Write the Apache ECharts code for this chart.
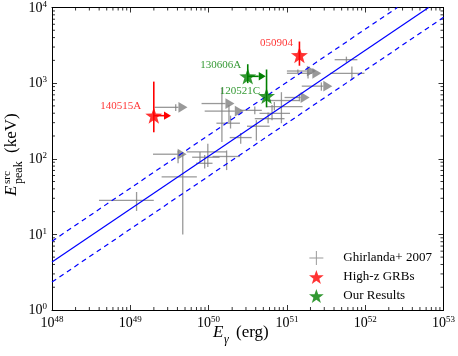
<!DOCTYPE html>
<html lang="en">
<head>
<meta charset="UTF-8">
<title>Ep - Egamma</title>
<script src="https://cdn.jsdelivr.net/npm/echarts@6.0.0/dist/echarts.min.js"></script>
<style>
html, body { margin: 0; padding: 0; background: #fff; }
#main { width: 458px; height: 356px; }
</style>
</head>
<body>
<div id="main"></div>
<script>
// all values are log10
// Ghirlanda+ 2007 sample
var gLogE    = [49.08, 49.67, 49.58, 49.61, 49.99, 49.89, 49.95, 50.23, 50.41, 50.17, 50.26, 50.28, 50.61, 50.59, 50.81, 50.93, 50.84, 50.76, 51.16, 51.27, 51.14, 51.76, 51.83, 51.44];
var gLogELo  = [48.60, 49.40, 49.31, 49.29, 49.72, 49.79, 49.84, 50.05, 50.27, 49.91, 49.95, 50.10, 50.49, 50.40, 50.65, 50.76, 50.74, 50.59, 50.97, 51.00, 51.00, 51.61, 51.55, 51.19];
var gLogEHi  = [49.30, 49.85, 49.73, 49.72, 50.23, 50.14, 50.05, 50.40, 50.55, 50.33, 50.45, 50.40, 50.78, 50.68, 51.04, 51.16, 51.20, 50.97, 51.29, 51.44, 51.37, 51.90, 51.99, 51.58];
var gLogEp   = [1.45, 1.76, 2.68, 2.06, 2.09, 2.02, 1.94, 2.03, 2.28, 2.73, 2.63, 2.47, 2.43, 2.64, 2.60, 2.77, 2.69, 2.53, 2.81, 3.13, 3.16, 3.31, 3.13, 2.96];
var gLogEpLo = [1.31, 1.00, 2.63, 1.94, 1.89, 1.95, 1.87, 1.85, 2.20, 2.22, 2.48, 2.40, 2.24, 2.59, 2.51, 2.47, 2.64, 2.47, 2.76, 3.06, 3.13, 3.27, 3.04, 2.90];
var gLogEpHi = [1.56, 2.09, 2.72, 2.11, 2.20, 2.09, 2.05, 2.11, 2.34, 2.94, 2.71, 2.57, 2.51, 2.69, 2.71, 2.88, 2.75, 2.61, 2.86, 3.19, 3.18, 3.35, 3.22, 3.01];
var gLimit   = [0, 0, 1, 1, 0, 0, 0, 0, 0, 1, 1, 0, 0, 0, 0, 0, 0, 0, 1, 1, 1, 0, 0, 1];

// high-z GRBs
var hzNames   = ['140515A', '050904'];
var hzLogE    = [49.30, 51.16];
var hzLogEHi  = [49.52, 51.16];
var hzLogEp   = [2.57, 3.37];
var hzLogEpLo = [2.35, 3.23];
var hzLogEpHi = [3.02, 3.55];
var hzLimit   = [1, 0];

// our results
var ourNames   = ['130606A', '120521C'];
var ourLogE    = [50.50, 50.74];
var ourLogEHi  = [50.73, 50.74];
var ourLogEp   = [3.09, 2.83];
var ourLogEpLo = [3.00, 2.68];
var ourLogEpHi = [3.25, 3.18];
var ourLimit   = [1, 0];

// Ghirlanda relation and its scatter (end points)
var fitLogE    = [48, 52.81];
var fitLogEp   = [0.634, 4];
var upLogE     = [48, 52.41];
var upLogEp    = [0.91, 4];
var lowLogE    = [48, 53];
var lowLogEp   = [0.37, 3.87];

var xDecades = [48, 49, 50, 51, 52, 53];
var yDecades = [0, 1, 2, 3, 4];

var SERIF = '"Liberation Serif", "DejaVu Serif", serif';
var STAR = 'path://M50,0 L61.76,33.82 L97.55,34.55 L69.02,56.18 L79.39,90.45 L50,70 L20.61,90.45 L30.98,56.18 L2.45,34.55 L38.24,33.82 Z';
var CROSS = 'path://M0,9.3 L20,9.3 L20,10.7 L0,10.7 Z M9.3,0 L10.7,0 L10.7,20 L9.3,20 Z';

function p10(v) { return Math.pow(10, v); }

function errData(e, eLo, eHi, ep, epLo, epHi, lim) {
    var out = [];
    for (var i = 0; i < e.length; i++) {
        out.push([p10(e[i]), p10(ep[i]), p10(eLo[i]), p10(eHi[i]), p10(epLo[i]), p10(epHi[i]), lim[i]]);
    }
    return out;
}

function lineData(xs, ys) {
    return xs.map(function (x, i) { return [p10(x), p10(ys[i])]; });
}

// error bars, with an arrow when the value is a lower limit
function errRender(color, lw, head) {
    return function (params, api) {
        var c = api.coord([api.value(0), api.value(1)]);
        var xl = api.coord([api.value(2), api.value(1)]);
        var xh = api.coord([api.value(3), api.value(1)]);
        var yb = api.coord([api.value(0), api.value(4)]);
        var yt = api.coord([api.value(0), api.value(5)]);
        var lim = api.value(6);
        var st = { stroke: color, lineWidth: lw };
        var kids = [];
        var xEnd = lim ? xh[0] - head : xh[0];
        if (xEnd - xl[0] > 0.5) {
            kids.push({ type: 'line', shape: { x1: xl[0], y1: c[1], x2: xEnd, y2: c[1] }, style: st });
        }
        kids.push({ type: 'line', shape: { x1: c[0], y1: yt[1], x2: c[0], y2: yb[1] }, style: st });
        if (lim) {
            kids.push({
                type: 'polygon',
                shape: { points: [[xh[0], c[1]], [xh[0] - head, c[1] - head * 0.6], [xh[0] - head, c[1] + head * 0.6]] },
                style: { fill: color }
            });
        }
        return { type: 'group', children: kids };
    };
}

// minor ticks 2..9 of every decade, inside, on all four sides
function minorRender(params, api) {
    var kids = [];
    var bl = api.coord([p10(xDecades[0]), p10(yDecades[0])]);
    var tr = api.coord([p10(xDecades[xDecades.length - 1]), p10(yDecades[yDecades.length - 1])]);
    var st = { stroke: '#000', lineWidth: 0.8 };
    for (var i = 0; i < xDecades.length - 1; i++) {
        for (var k = 2; k < 10; k++) {
            var px = api.coord([k * p10(xDecades[i]), 1])[0];
            kids.push({ type: 'line', shape: { x1: px, y1: bl[1], x2: px, y2: bl[1] - 3 }, style: st });
            kids.push({ type: 'line', shape: { x1: px, y1: tr[1], x2: px, y2: tr[1] + 3 }, style: st });
        }
    }
    for (var j = 0; j < yDecades.length - 1; j++) {
        for (var m = 2; m < 10; m++) {
            var py = api.coord([p10(48), m * p10(yDecades[j])])[1];
            kids.push({ type: 'line', shape: { x1: bl[0], y1: py, x2: bl[0] + 3, y2: py }, style: st });
            kids.push({ type: 'line', shape: { x1: tr[0], y1: py, x2: tr[0] - 3, y2: py }, style: st });
        }
    }
    return { type: 'group', children: kids };
}

function powLabel(v) {
    return '{a|10}{b|' + Math.round(Math.log10(v)) + '}';
}

var labelRich = {
    a: { fontFamily: SERIF, fontSize: 14, color: '#000', verticalAlign: 'bottom' },
    b: { fontFamily: SERIF, fontSize: 9, color: '#000', verticalAlign: 'top', padding: [0, 0, 6, 0] }
};

function logAxis(min, max, pos, showLabel) {
    return {
        type: 'log', logBase: 10, min: min, max: max, position: pos,
        axisLine: { show: true, onZero: false, lineStyle: { color: '#000', width: 1 } },
        axisTick: { show: true, inside: true, length: 5, lineStyle: { color: '#000', width: 0.8 } },
        splitLine: { show: false },
        axisLabel: { show: showLabel, formatter: powLabel, rich: labelRich, margin: 5 }
    };
}

var starLabel = {
    '140515A': { distance: 4, offset: [0, -10] },
    '050904': { distance: -2, offset: [0, -12] },
    '130606A': { distance: -2, offset: [0, -11] },
    '120521C': { distance: -2, offset: [0, -5] }
};

function starData(names, e, ep, color) {
    return names.map(function (n, i) {
        return {
            name: n,
            value: [p10(e[i]), p10(ep[i])],
            label: {
                show: true, formatter: n, position: 'left',
                distance: starLabel[n].distance, offset: starLabel[n].offset,
                fontFamily: SERIF, fontSize: 11, color: color
            }
        };
    });
}

var RED = '#ff0000';
var GREEN = '#008000';
var GRAY = 'rgba(128,128,128,0.8)';
var BLUE = '#0000ff';

var chart = echarts.init(document.getElementById('main'));
chart.setOption({
    animation: false,
    grid: { left: 52, right: 14, top: 7, bottom: 46 },
    xAxis: [
        logAxis(p10(48), p10(53), 'bottom', true),
        logAxis(p10(48), p10(53), 'top', false)
    ],
    yAxis: [
        logAxis(p10(0), p10(4), 'left', true),
        logAxis(p10(0), p10(4), 'right', false)
    ],
    legend: {
        orient: 'vertical', left: 304, top: 246, itemWidth: 30, itemHeight: 14, itemGap: 5,
        textStyle: { fontFamily: SERIF, fontSize: 13, color: '#000', padding: [0, 0, 0, 7] },
        data: [
            { name: 'Ghirlanda+ 2007', icon: CROSS },
            { name: 'High-z GRBs', icon: STAR },
            { name: 'Our Results', icon: STAR }
        ]
    },
    graphic: [
        {
            type: 'group', x: 213, y: 341, silent: true,
            children: [
                { type: 'text', x: 0, y: 0, style: { text: 'E', font: 'italic 17px ' + SERIF, fill: '#000', verticalAlign: 'bottom' } },
                { type: 'text', x: 11, y: 5, style: { text: 'γ', font: 'italic 12px ' + SERIF, fill: '#000', verticalAlign: 'bottom' } },
                { type: 'text', x: 23, y: 0, style: { text: '(erg)', font: '17px ' + SERIF, fill: '#000', verticalAlign: 'bottom' } }
            ]
        },
        {
            type: 'group', x: 20, y: 196, rotation: Math.PI / 2, silent: true,
            children: [
                { type: 'text', x: 0, y: 0, style: { text: 'E', font: 'italic 17px ' + SERIF, fill: '#000', verticalAlign: 'bottom' } },
                { type: 'text', x: 12, y: -7, style: { text: 'src', font: '11px ' + SERIF, fill: '#000', verticalAlign: 'bottom' } },
                { type: 'text', x: 12, y: 5, style: { text: 'peak', font: '12px ' + SERIF, fill: '#000', verticalAlign: 'bottom' } },
                { type: 'text', x: 43, y: 0, style: { text: '(keV)', font: '17px ' + SERIF, fill: '#000', verticalAlign: 'bottom' } }
            ]
        }
    ],
    series: [
        {
            type: 'custom', silent: true, clip: false, z: 1,
            data: [[p10(48), 1]],
            renderItem: minorRender
        },
        {
            name: 'Ghirlanda+ 2007', type: 'custom', z: 2,
            itemStyle: { color: '#999' },
            data: errData(gLogE, gLogELo, gLogEHi, gLogEp, gLogEpLo, gLogEpHi, gLimit),
            renderItem: errRender(GRAY, 1.3, 9)
        },
        {
            type: 'line', z: 3, symbol: 'none', silent: true,
            lineStyle: { color: BLUE, width: 1.2 },
            data: lineData(fitLogE, fitLogEp)
        },
        {
            type: 'line', z: 3, symbol: 'none', silent: true,
            lineStyle: { color: BLUE, width: 1.2, type: [5, 4] },
            data: lineData(upLogE, upLogEp)
        },
        {
            type: 'line', z: 3, symbol: 'none', silent: true,
            lineStyle: { color: BLUE, width: 1.2, type: [5, 4] },
            data: lineData(lowLogE, lowLogEp)
        },
        {
            type: 'custom', z: 4, silent: true,
            data: errData(hzLogE, hzLogE, hzLogEHi, hzLogEp, hzLogEpLo, hzLogEpHi, hzLimit),
            renderItem: errRender(RED, 1.6, 7)
        },
        {
            type: 'custom', z: 4, silent: true,
            data: errData(ourLogE, ourLogE, ourLogEHi, ourLogEp, ourLogEpLo, ourLogEpHi, ourLimit),
            renderItem: errRender(GREEN, 1.6, 7)
        },
        {
            name: 'High-z GRBs', type: 'scatter', z: 5,
            symbol: STAR, symbolSize: 17, symbolKeepAspect: true,
            itemStyle: { color: RED },
            data: starData(hzNames, hzLogE, hzLogEp, RED)
        },
        {
            name: 'Our Results', type: 'scatter', z: 5,
            symbol: STAR, symbolSize: 17, symbolKeepAspect: true,
            itemStyle: { color: GREEN },
            data: starData(ourNames, ourLogE, ourLogEp, GREEN)
        }
    ]
});
</script>
</body>
</html>
